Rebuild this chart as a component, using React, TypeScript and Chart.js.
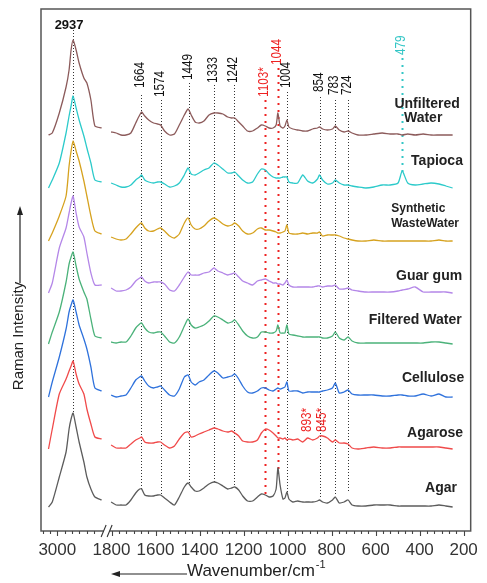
import React, { useEffect, useRef } from "react";
import { Chart, registerables } from "chart.js";

Chart.register(...registerables);

// ---------------- data ----------------
const SAMPLES = [
  "Unfiltered Water",
  "Tapioca",
  "Synthetic WasteWater",
  "Guar gum",
  "Filtered Water",
  "Cellulose",
  "Agarose",
  "Agar",
];

// C–H stretching panel (cm-1)
const WN_HIGH = [3035, 3020, 2992, 2965, 2953, 2945, 2937, 2925, 2913, 2894, 2882, 2866, 2850, 2823];

// fingerprint panel (cm-1)
const WN_LOW = [
  1802, 1779, 1757, 1734, 1712, 1690, 1672, 1663, 1649, 1631,
  1609, 1591, 1577, 1559, 1536, 1514, 1492, 1469, 1452, 1438,
  1420, 1402, 1380, 1357, 1335, 1317, 1294, 1272, 1254, 1240,
  1222, 1204, 1182, 1159, 1137, 1119, 1101, 1084, 1066, 1052,
  1044, 1034, 1021, 1012, 1003, 994, 976, 954, 931, 909,
  886, 864, 855, 841, 819, 796, 783, 765, 743, 725,
  707, 680, 644, 608, 570, 534, 498, 479, 454, 420,
  384, 348, 312, 281, 250,
];

// intensities (arbitrary units) — high panel
const HIGH_UNFILTERED = [0, 2, 22, 48, 65, 85, 95, 85, 72, 57, 52, 35, 9, 7];
const HIGH_TAPIOCA = [0, 8, 25, 55, 72, 82, 92, 80, 68, 52, 40, 25, 8, 6];
const HIGH_SYNTHETIC = [0, 8, 25, 45, 75, 90, 100, 90, 80, 60, 45, 25, 10, 7];
const HIGH_GUAR = [0, 10, 45, 65, 80, 90, 97, 80, 66, 56, 40, 20, 8, 8];
const HIGH_FILTERED = [0, 12, 32, 62, 80, 87, 92, 78, 65, 52, 45, 25, 8, 6];
const HIGH_CELLULOSE = [0, 15, 40, 68, 85, 92, 97, 85, 72, 58, 48, 30, 9, 6];
const HIGH_AGAROSE = [0, 20, 55, 70, 78, 83, 88, 75, 65, 55, 40, 25, 12, 10];
const HIGH_AGAR = [0, 5, 30, 55, 78, 88, 94, 80, 65, 45, 30, 18, 10, 7];

// intensities — fingerprint panel
const LOW_UNFILTERED = [
  3, 2, 0, 0, 2, 12, 20, 23, 19, 15,
  12, 11, 10, 4, 0, 1, 10, 20, 26, 20,
  13, 12, 14, 20, 22, 22, 21, 18, 17, 17,
  13, 9, 4, 4, 7, 10, 9, 7, 7, 10,
  22, 9, 7, 9, 15, 8, 6, 5, 4, 4,
  6, 7, 8, 6, 5, 6, 9, 5, 3, 4,
  2, 0, 0, 1, 2, 1, 1, 0, 1, 0,
  1, 0, 0, 0, 0,
];
const LOW_TAPIOCA = [
  5, 3, 1, 1, 3, 8, 11, 13, 8, 6,
  5, 6, 6, 4, 1, 2, 5, 13, 20, 14,
  13, 15, 18, 20, 25, 23, 19, 15, 15, 16,
  12, 8, 5, 6, 14, 19, 18, 14, 11, 10,
  10, 10, 11, 11, 11, 6, 5, 5, 13, 7,
  5, 9, 13, 8, 4, 5, 8, 5, 3, 3,
  2, 1, 0, 1, 3, 3, 5, 17, 5, 3,
  4, 5, 4, 2, 0,
];
const LOW_SYNTHETIC = [
  4, 2, 1, 2, 7, 13, 17, 18, 13, 10,
  10, 12, 13, 10, 5, 3, 7, 18, 23, 16,
  12, 12, 15, 20, 23, 21, 17, 15, 16, 18,
  15, 10, 7, 8, 12, 13, 11, 11, 10, 9,
  8, 8, 9, 10, 16, 8, 7, 7, 8, 7,
  8, 8, 9, 5, 6, 6, 6, 5, 3, 2,
  1, 0, 0, 1, 0, 0, 0, 0, 0, 0,
  0, 0, 1, 0, 0,
];
const LOW_GUAR = [
  5, 2, 2, 3, 6, 12, 15, 16, 12, 10,
  11, 11, 11, 9, 3, 2, 8, 16, 21, 18,
  18, 18, 20, 21, 25, 22, 20, 18, 19, 20,
  16, 12, 10, 8, 12, 13, 14, 12, 10, 10,
  9, 9, 8, 10, 13, 8, 6, 6, 6, 6,
  6, 7, 7, 6, 7, 7, 8, 4, 4, 5,
  3, 2, 1, 1, 1, 1, 2, 3, 4, 6,
  1, 1, 1, 1, 0,
];
const LOW_FILTERED = [
  2, 1, 2, 2, 8, 16, 20, 21, 16, 12,
  11, 12, 12, 8, 2, 1, 7, 18, 25, 19,
  16, 17, 19, 23, 28, 27, 24, 21, 22, 24,
  19, 13, 8, 6, 7, 12, 12, 11, 11, 13,
  19, 11, 11, 11, 19, 10, 9, 8, 7, 7,
  7, 7, 7, 6, 6, 8, 12, 6, 4, 7,
  3, 1, 1, 1, 1, 1, 1, 1, 1, 1,
  1, 2, 2, 1, 0,
];
const LOW_CELLULOSE = [
  2, 0, 1, 2, 9, 17, 20, 21, 16, 11,
  9, 10, 11, 7, 2, 1, 8, 20, 22, 15,
  12, 15, 17, 22, 26, 24, 19, 20, 21, 23,
  18, 11, 5, 4, 6, 9, 9, 7, 6, 8,
  9, 8, 9, 10, 15, 6, 6, 6, 4, 5,
  5, 5, 5, 6, 7, 9, 14, 4, 5, 7,
  3, 2, 2, 2, 1, 1, 2, 2, 1, 1,
  3, 1, 3, 0, 0,
];
const LOW_AGAROSE = [
  4, 1, 1, 1, 5, 9, 11, 12, 7, 6,
  6, 7, 7, 4, 1, 3, 10, 16, 17, 12,
  13, 15, 17, 19, 21, 20, 18, 17, 18, 16,
  13, 8, 7, 7, 9, 16, 20, 19, 16, 13,
  11, 11, 10, 11, 9, 10, 9, 10, 7, 11,
  9, 11, 13, 13, 11, 7, 9, 6, 6, 5,
  1, 0, 1, 2, 1, 1, 2, 2, 2, 2,
  2, 2, 2, 1, 0,
];
const LOW_AGAR = [
  5, 2, 2, 2, 7, 14, 18, 18, 12, 11,
  11, 12, 12, 9, 5, 2, 10, 20, 24, 20,
  16, 16, 19, 23, 25, 24, 21, 18, 19, 20,
  17, 11, 6, 6, 10, 13, 12, 10, 11, 18,
  39, 22, 8, 9, 15, 8, 5, 6, 5, 5,
  5, 6, 7, 5, 4, 7, 10, 4, 5, 7,
  2, 1, 1, 2, 2, 2, 1, 1, 1, 1,
  1, 1, 2, 1, 0,
];

const HIGH = [HIGH_UNFILTERED, HIGH_TAPIOCA, HIGH_SYNTHETIC, HIGH_GUAR, HIGH_FILTERED, HIGH_CELLULOSE, HIGH_AGAROSE, HIGH_AGAR];
const LOW = [LOW_UNFILTERED, LOW_TAPIOCA, LOW_SYNTHETIC, LOW_GUAR, LOW_FILTERED, LOW_CELLULOSE, LOW_AGAROSE, LOW_AGAR];

// stacking offsets (intensity units)
const OFFSETS = [396, 343, 290, 238, 187, 134, 82, 24];

// axis ticks
const MAJOR_HIGH = [3000];
const MAJOR_LOW = [1800, 1600, 1400, 1200, 1000, 800, 600, 400, 200];

// peak markers
const PEAK_WN = [2937, 1664, 1574, 1449, 1333, 1242, 1103, 1044, 1004, 854, 783, 724, 479];
const PEAK_LABELS = ["2937", "1664", "1574", "1449", "1333", "1242", "1103*", "1044", "1004", "854", "783", "724", "479"];
const PEAK_TOP = [501, 436, 431, 448, 446, 446, 431, 463, 439, 434, 431, 431, 473];
const PEAK_BOTTOM = [116, 41, 36, 48, 49, 44, 34, 61, 36, 34, 36, 38, 359];
const PEAK_LABEL_Y = [506, 443, 434, 451, 448, 448, 434, 466, 443, 439, 436, 436, 476];

const AGAROSE_NOTES = ["893*", "845*"];
const AGAROSE_NOTE_X = [913, 842];
const AGAROSE_NOTE_Y = 99;

// ---------------- style ----------------
const COLORS = ["#8c5b5b", "#2ccaca", "#d6a21f", "#b487e8", "#4bb27a", "#2f72dc", "#f04a4a", "#5c5c5c"];
const BLACK = "#222";
const RED = "#ee2222";
const CYAN = "#33c6c6";
const PEAK_COLORS = [BLACK, BLACK, BLACK, BLACK, BLACK, BLACK, RED, RED, BLACK, BLACK, BLACK, BLACK, CYAN];

const NAME_LINES = [["Unfiltered", "Water"], ["Tapioca"], ["Synthetic", "WasteWater"], ["Guar gum"], ["Filtered Water"], ["Cellulose"], ["Agarose"], ["Agar"]];
const NAME_X = [[366, 384], [321], [406, 375], [357], [420], [339], [330], [303]];
const NAME_DY = [[31, 17], [27], [32, 17], [17], [24], [19], [16], [19]];

const SANS = '"Liberation Sans", Arial, sans-serif';

// broken axis mapping: the high-wavenumber panel is placed left of 1800
const U_3000 = 2046.4;
const HIGH_SCALE = 1.14;
const toU = (wn: number) => (wn > 2000 ? U_3000 + (wn - 3000) * HIGH_SCALE : wn);
const TICK_STEP = 200 / 6;

function buildTicks(): number[] {
  const arr: number[] = [];
  const u3 = toU(MAJOR_HIGH[0]);
  for (let k = -2; k <= 5; k++) arr.push(u3 - k * TICK_STEP);
  for (let k = 0; k <= 48; k++) arr.push(MAJOR_LOW[0] - k * TICK_STEP);
  return arr;
}

function labelFor(v: number): string {
  for (const m of MAJOR_HIGH) if (Math.abs(toU(m) - v) < 0.5) return String(m);
  for (const m of MAJOR_LOW) if (Math.abs(m - v) < 0.5) return String(m);
  return "";
}

function drawRotated(ctx: any, text: string, px: number, py: number, color: string) {
  ctx.save();
  ctx.translate(px, py);
  ctx.rotate(-Math.PI / 2);
  ctx.scale(0.84, 1);
  ctx.fillStyle = color;
  ctx.font = `14px ${SANS}`;
  ctx.textAlign = "left";
  ctx.textBaseline = "middle";
  ctx.fillText(text, 0, 0);
  ctx.restore();
}

const overlayPlugin = {
  id: "overlay",
  beforeDatasetsDraw(chart: any) {
    const { ctx } = chart;
    const x = chart.scales.x;
    const y = chart.scales.y;
    PEAK_WN.forEach((wn, i) => {
      const px = Math.round(x.getPixelForValue(toU(wn))) + 0.5;
      const col = PEAK_COLORS[i];
      const coloured = col !== BLACK;
      ctx.save();
      ctx.strokeStyle = coloured ? col : "#333";
      ctx.lineWidth = coloured ? 2 : 1;
      ctx.setLineDash(coloured ? [2, 5] : [1, 2]);
      ctx.beginPath();
      ctx.moveTo(px, y.getPixelForValue(PEAK_TOP[i]));
      ctx.lineTo(px, y.getPixelForValue(PEAK_BOTTOM[i]));
      ctx.stroke();
      ctx.restore();
    });
  },
  afterDraw(chart: any) {
    const { ctx, chartArea } = chart;
    const x = chart.scales.x;
    const y = chart.scales.y;
    const { left, right, top, bottom } = chartArea;
    ctx.save();

    // frame
    ctx.strokeStyle = "#555";
    ctx.lineWidth = 1.5;
    ctx.strokeRect(left, top, right - left, bottom - top);

    // tick marks
    ctx.lineWidth = 1.1;
    ctx.strokeStyle = "#444";
    x.ticks.forEach((t: any) => {
      const px = Math.round(x.getPixelForValue(t.value)) + 0.5;
      const major = labelFor(t.value) !== "";
      ctx.beginPath();
      ctx.moveTo(px, bottom);
      ctx.lineTo(px, bottom + (major ? 5 : 3));
      ctx.stroke();
    });

    // axis break
    const bx = (x.getPixelForValue(toU(WN_HIGH[WN_HIGH.length - 1])) + x.getPixelForValue(MAJOR_LOW[0])) / 2;
    ctx.fillStyle = "#fff";
    ctx.fillRect(bx - 3, bottom - 2, 6, 4);
    ctx.strokeStyle = "#333";
    ctx.lineWidth = 1.1;
    [-3, 3].forEach((dx) => {
      ctx.beginPath();
      ctx.moveTo(bx + dx - 2.5, bottom + 6);
      ctx.lineTo(bx + dx + 2.5, bottom - 6);
      ctx.stroke();
    });

    // peak labels
    PEAK_WN.forEach((wn, i) => {
      const px = x.getPixelForValue(toU(wn));
      const py = y.getPixelForValue(PEAK_LABEL_Y[i]);
      const col = PEAK_COLORS[i] === BLACK ? "#111" : PEAK_COLORS[i];
      if (i === 0) {
        ctx.fillStyle = col;
        ctx.font = `bold 13px ${SANS}`;
        ctx.textAlign = "center";
        ctx.textBaseline = "middle";
        ctx.fillText(PEAK_LABELS[i], px - 4, py);
      } else {
        drawRotated(ctx, PEAK_LABELS[i], px - 1, py, col);
      }
    });

    // agarose notes
    AGAROSE_NOTES.forEach((t, i) => {
      drawRotated(ctx, t, x.getPixelForValue(AGAROSE_NOTE_X[i]), y.getPixelForValue(AGAROSE_NOTE_Y), RED);
    });

    // sample names
    ctx.fillStyle = "#222";
    ctx.textAlign = "center";
    ctx.textBaseline = "middle";
    NAME_LINES.forEach((lines, i) => {
      ctx.font = i === 2 ? `bold 12px ${SANS}` : `bold 14px ${SANS}`;
      lines.forEach((line, j) => {
        ctx.fillText(line, x.getPixelForValue(NAME_X[i][j]), y.getPixelForValue(OFFSETS[i] + NAME_DY[i][j]));
      });
    });

    // y title with arrow
    ctx.fillStyle = "#222";
    ctx.strokeStyle = "#222";
    ctx.save();
    ctx.translate(left - 22, 336);
    ctx.rotate(-Math.PI / 2);
    ctx.font = `15px ${SANS}`;
    ctx.textAlign = "center";
    ctx.textBaseline = "middle";
    ctx.fillText("Raman Intensity", 0, 0);
    ctx.restore();
    ctx.lineWidth = 1.2;
    ctx.beginPath();
    ctx.moveTo(left - 21, 283);
    ctx.lineTo(left - 21, 213);
    ctx.stroke();
    ctx.beginPath();
    ctx.moveTo(left - 21, 206);
    ctx.lineTo(left - 24, 215);
    ctx.lineTo(left - 18, 215);
    ctx.closePath();
    ctx.fill();

    // x title with arrow
    const ty = 573;
    const tx = 187;
    ctx.beginPath();
    ctx.moveTo(tx, ty + 1);
    ctx.lineTo(119, ty + 1);
    ctx.stroke();
    ctx.beginPath();
    ctx.moveTo(111, ty + 1);
    ctx.lineTo(120, ty - 2);
    ctx.lineTo(120, ty + 4);
    ctx.closePath();
    ctx.fill();
    ctx.font = `17px ${SANS}`;
    ctx.textAlign = "left";
    ctx.textBaseline = "middle";
    ctx.fillText("Wavenumber/cm", tx, ty - 2);
    const w = ctx.measureText("Wavenumber/cm").width;
    ctx.font = `11px ${SANS}`;
    ctx.fillText("-1", tx + w + 1, ty - 8);

    ctx.restore();
  },
};

export default function App() {
  const ref = useRef<HTMLCanvasElement>(null);
  useEffect(() => {
    if (!ref.current) return;
    const datasets = SAMPLES.map((name, i) => ({
      label: name,
      data: [
        ...WN_HIGH.map((wn, j) => ({ x: toU(wn), y: OFFSETS[i] + HIGH[i][j] })),
        { x: (toU(WN_HIGH[WN_HIGH.length - 1]) + WN_LOW[0]) / 2, y: null },
        ...WN_LOW.map((wn, j) => ({ x: wn, y: OFFSETS[i] + LOW[i][j] })),
      ],
      borderColor: COLORS[i],
      backgroundColor: COLORS[i],
      borderWidth: 1.3,
      pointRadius: 0,
      tension: 0.2,
      spanGaps: false,
      fill: false,
    }));
    const chart = new Chart(ref.current, {
      type: "line",
      data: { datasets } as any,
      options: {
        responsive: false,
        animation: false,
        layout: { padding: { left: 41, right: 11, top: 9, bottom: 13.6 } },
        plugins: { legend: { display: false }, tooltip: { enabled: false } },
        scales: {
          x: {
            type: "linear",
            reverse: true,
            min: 168,
            max: 2120.4,
            grid: { display: false, drawTicks: false },
            border: { display: false },
            afterBuildTicks: (scale: any) => {
              scale.ticks = buildTicks().map((v) => ({ value: v }));
            },
            ticks: {
              autoSkip: false,
              maxRotation: 0,
              minRotation: 0,
              padding: 9,
              color: "#333",
              font: { family: SANS, size: 17 },
              callback: (v: any) => labelFor(Number(v)),
            },
          },
          y: { display: false, min: 0, max: 522 },
        },
      } as any,
      plugins: [overlayPlugin],
    });
    return () => chart.destroy();
  }, []);
  return (
    <div style={{ position: "fixed", left: 0, top: 0, width: 487, height: 583, background: "#fff" }}>
      <canvas ref={ref} width={487} height={583} style={{ display: "block", width: 487, height: 583 }} />
    </div>
  );
}
